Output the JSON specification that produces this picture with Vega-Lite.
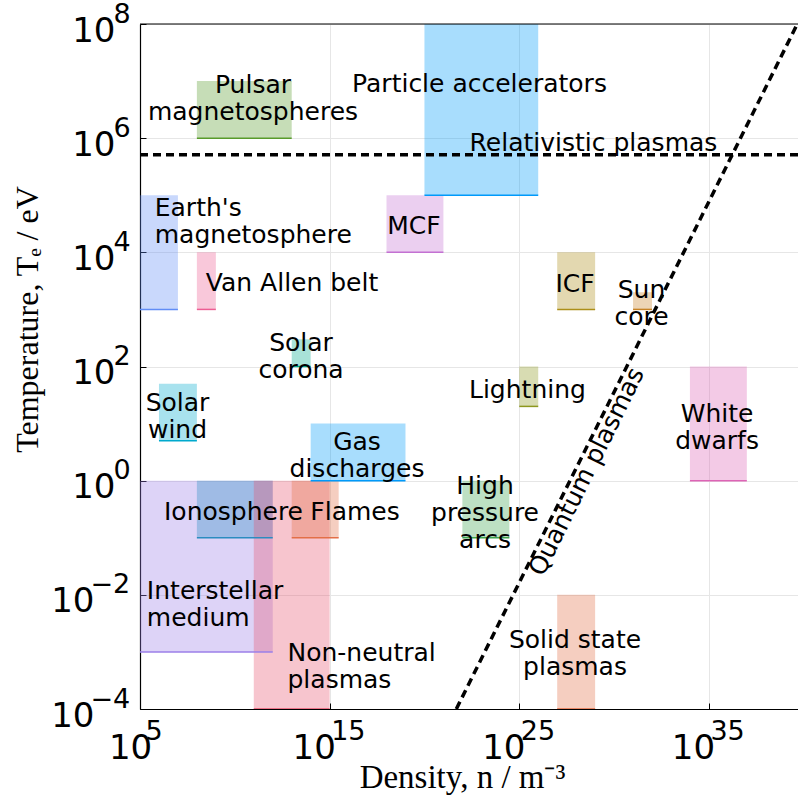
{
  "$schema": "https://vega.github.io/schema/vega-lite/v6.json",
  "width": 658,
  "height": 685,
  "autosize": "none",
  "padding": {"left": 140, "top": 24, "right": 0, "bottom": 98},
  "background": "white",
  "config": {"view": {"stroke": null}, "font": "DejaVu Sans"},
  "datasets": {
    "boxes": [
      {"name": "Interstellar medium", "n1": 1e5, "n2": 1e12, "T1": 1e-3, "T2": 1},
      {"name": "Ionosphere", "n1": 1e8, "n2": 1e12, "T1": 0.1, "T2": 1},
      {"name": "Non-neutral plasmas", "n1": 1e11, "n2": 1e15, "T1": 1e-4, "T2": 1},
      {"name": "Flames", "n1": 1e13, "n2": 3e15, "T1": 0.1, "T2": 1},
      {"name": "Pulsar magnetospheres", "n1": 1e8, "n2": 1e13, "T1": 1e6, "T2": 1e7},
      {"name": "Particle accelerators", "n1": 1e20, "n2": 1e26, "T1": 1e5, "T2": 1e9},
      {"name": "Earth's magnetosphere", "n1": 1e5, "n2": 1e7, "T1": 1e3, "T2": 1e5},
      {"name": "Van Allen belt", "n1": 1e8, "n2": 1e9, "T1": 1e3, "T2": 1e4},
      {"name": "MCF", "n1": 1e18, "n2": 1e21, "T1": 1e4, "T2": 1e5},
      {"name": "ICF", "n1": 1e27, "n2": 1e29, "T1": 1e3, "T2": 1e4},
      {"name": "Sun core", "n1": 1e31, "n2": 1e32, "T1": 1e3, "T2": 2e3},
      {"name": "Solar corona", "n1": 1e13, "n2": 1e14, "T1": 100, "T2": 300},
      {"name": "Solar wind", "n1": 1e6, "n2": 1e8, "T1": 5, "T2": 50},
      {"name": "Lightning", "n1": 1e25, "n2": 1e26, "T1": 20, "T2": 100},
      {"name": "White dwarfs", "n1": 1e34, "n2": 1e37, "T1": 1, "T2": 100},
      {"name": "Gas discharges", "n1": 1e14, "n2": 1e19, "T1": 1, "T2": 10},
      {"name": "High pressure arcs", "n1": 1e22, "n2": 3e24, "T1": 0.1, "T2": 1},
      {"name": "Solid state plasmas", "n1": 1e27, "n2": 1e29, "T1": 1e-4, "T2": 1e-2}
    ],
    "quantum": [
      {"n": 4.8e21, "T": 1e-4},
      {"n": 4.6e39, "T": 1e8}
    ],
    "relativistic": [{"T": 511000}],
    "frameTop": [{"T": 1e8}],
    "labelsCentered": [
      {"label": "Pulsar\nmagnetospheres", "n": 9.1e10, "T": 8.7e6},
      {"label": "Particle accelerators", "n": 8.0e22, "T": 9.0e6},
      {"label": "Relativistic plasmas", "n": 8.2e28, "T": 8.2e5},
      {"label": "Van Allen belt", "n": 1.04e13, "T": 2850},
      {"label": "MCF", "n": 2.8e19, "T": 2.9e4},
      {"label": "ICF", "n": 8.7e27, "T": 2780},
      {"label": "Sun\ncore", "n": 2.8e31, "T": 2170},
      {"label": "Solar\ncorona", "n": 3.1e13, "T": 262},
      {"label": "Lightning", "n": 2.7e25, "T": 38.5},
      {"label": "Solar\nwind", "n": 9.5e6, "T": 23.4},
      {"label": "White\ndwarfs", "n": 2.7e35, "T": 15.0},
      {"label": "Gas\ndischarges", "n": 2.77e16, "T": 4.78},
      {"label": "Ionosphere", "n": 8.5e9, "T": 0.285},
      {"label": "Flames", "n": 2.18e16, "T": 0.285},
      {"label": "High\npressure\narcs", "n": 1.56e23, "T": 0.81},
      {"label": "Solid state\nplasmas", "n": 8.7e27, "T": 1.6e-3}
    ],
    "labelsLeft": [
      {"label": "Earth's\nmagnetosphere", "n": 6.0e5, "T": 6.1e4},
      {"label": "Interstellar\nmedium", "n": 2.3e5, "T": 0.0118},
      {"label": "Non-neutral\nplasmas", "n": 6.0e12, "T": 9.7e-4}
    ],
    "labelQuantum": [
      {"label": "Quantum plasmas", "n": 3.6e28, "T": 1.44}
    ]
  },
  "layer": [
    {
      "layer": [
        {
          "data": {"name": "boxes"},
          "mark": {"type": "rect", "opacity": 0.34, "clip": true},
          "encoding": {
            "x": {
              "field": "n1", "type": "quantitative",
              "scale": {"type": "log", "domain": [1e5, 5e39], "nice": false},
              "axis": {
                "orient": "bottom",
                "values": [1e5, 1e15, 1e25, 1e35],
                "labelExpr": "'10'",
                "labelFont": "DejaVu Sans", "labelFontSize": 34, "labelColor": "black",
                "labelAlign": "center", "labelBaseline": "top",
                "labelPadding": 28,
                "labelOffset": {"condition": {"test": "datum.value < 1e10", "value": -10}, "value": -16},
                "labelOverlap": false, "labelFlush": false,
                "tickSize": -6, "tickColor": "black", "tickWidth": 1,
                "domainColor": "black", "domainWidth": 1.2,
                "grid": true, "gridColor": "#e6e6e6", "gridWidth": 1,
                "title": "Density, n / m⁻³",
                "titleFont": "Liberation Serif", "titleFontSize": 33, "titleFontWeight": "normal", "titleColor": "black",
                "titleAlign": "center", "titleBaseline": "alphabetic", "titleX": 322, "titleY": 78
              }
            },
            "x2": {"field": "n2"},
            "y": {
              "field": "T1", "type": "quantitative",
              "scale": {"type": "log", "domain": [1e-4, 1e8], "nice": false},
              "axis": {
                "orient": "left",
                "values": [1e-4, 1e-2, 1, 100, 1e4, 1e6, 1e8],
                "labelExpr": "'10'",
                "labelFont": "DejaVu Sans", "labelFontSize": 34, "labelColor": "black",
                "labelAlign": "right", "labelBaseline": "middle",
                "labelPadding": {"condition": {"test": "datum.value < 0.5", "value": 52}, "value": 31},
                "labelOffset": 7,
                "labelOverlap": false, "labelFlush": false,
                "tickSize": -6, "tickColor": "black", "tickWidth": 1,
                "domainColor": "black", "domainWidth": 1.2,
                "grid": true, "gridColor": "#e6e6e6", "gridWidth": 1,
                "title": "Temperature, Tₑ / eV",
                "titleFont": "Liberation Serif", "titleFontSize": 32, "titleFontWeight": "normal", "titleColor": "black",
                "titleAngle": 270, "titleAlign": "center", "titleBaseline": "alphabetic", "titleX": -103, "titleY": 295
              }
            },
            "y2": {"field": "T2"},
            "color": {
              "field": "name", "type": "nominal", "legend": null,
              "scale": {
                "domain": ["Interstellar medium", "Ionosphere", "Non-neutral plasmas", "Flames", "Pulsar magnetospheres", "Particle accelerators", "Earth's magnetosphere", "Van Allen belt", "MCF", "ICF", "Sun core", "Solar corona", "Solar wind", "Lightning", "White dwarfs", "Gas discharges", "High pressure arcs", "Solid state plasmas"],
                "range": ["#9B7FE9", "#2A8CC0", "#E8566F", "#E36F47", "#589B2B", "#009AFA", "#618DF6", "#ED5E93", "#C371D2", "#AC8E18", "#C68225", "#00A98D", "#00A9CD", "#8E971E", "#DD64B5", "#009AFA", "#3EA44E", "#E36F47"]
              }
            }
          }
        },
        {
          "data": {"name": "boxes"},
          "mark": {"type": "rule", "strokeWidth": 1.5, "clip": true},
          "encoding": {
            "x": {"field": "n1", "type": "quantitative"},
            "x2": {"field": "n2"},
            "y": {"field": "T1", "type": "quantitative"},
            "color": {
              "field": "name", "type": "nominal", "legend": null,
              "scale": {
                "domain": ["Interstellar medium", "Ionosphere", "Non-neutral plasmas", "Flames", "Pulsar magnetospheres", "Particle accelerators", "Earth's magnetosphere", "Van Allen belt", "MCF", "ICF", "Sun core", "Solar corona", "Solar wind", "Lightning", "White dwarfs", "Gas discharges", "High pressure arcs", "Solid state plasmas"],
                "range": ["#9B7FE9", "#2A8CC0", "#E8566F", "#E36F47", "#589B2B", "#009AFA", "#618DF6", "#ED5E93", "#C371D2", "#AC8E18", "#C68225", "#00A98D", "#00A9CD", "#8E971E", "#DD64B5", "#009AFA", "#3EA44E", "#E36F47"]
              }
            }
          }
        },
        {
          "data": {"name": "relativistic"},
          "mark": {"type": "rule", "color": "black", "strokeWidth": 3.5, "strokeDash": [8, 5]},
          "encoding": {"y": {"field": "T", "type": "quantitative"}}
        },
        {
          "data": {"name": "quantum"},
          "mark": {"type": "line", "color": "black", "strokeWidth": 3.5, "strokeDash": [8, 5], "clip": true},
          "encoding": {
            "x": {"field": "n", "type": "quantitative"},
            "y": {"field": "T", "type": "quantitative"}
          }
        },
        {
          "data": {"name": "frameTop"},
          "mark": {"type": "rule", "color": "black", "strokeWidth": 1.2},
          "encoding": {"y": {"field": "T", "type": "quantitative"}}
        },
        {
          "data": {"name": "labelsCentered"},
          "mark": {"type": "text", "align": "center", "baseline": "middle", "font": "DejaVu Sans", "fontSize": 25, "lineBreak": "\n", "lineHeight": 27, "color": "black"},
          "encoding": {
            "x": {"field": "n", "type": "quantitative"},
            "y": {"field": "T", "type": "quantitative"},
            "text": {"field": "label"}
          }
        },
        {
          "data": {"name": "labelsLeft"},
          "mark": {"type": "text", "align": "left", "baseline": "middle", "font": "DejaVu Sans", "fontSize": 25, "lineBreak": "\n", "lineHeight": 27, "color": "black"},
          "encoding": {
            "x": {"field": "n", "type": "quantitative"},
            "y": {"field": "T", "type": "quantitative"},
            "text": {"field": "label"}
          }
        },
        {
          "data": {"name": "labelQuantum"},
          "mark": {"type": "text", "align": "center", "baseline": "middle", "font": "DejaVu Sans", "fontSize": 25, "angle": 296.4, "color": "black"},
          "encoding": {
            "x": {"field": "n", "type": "quantitative"},
            "y": {"field": "T", "type": "quantitative"},
            "text": {"field": "label"}
          }
        }
      ]
    },
    {
      "data": {"name": "quantum"},
      "mark": {"type": "point", "opacity": 0},
      "encoding": {
        "x": {
          "field": "n", "type": "quantitative",
          "scale": {"type": "log", "domain": [1e5, 5e39], "nice": false},
          "axis": {
            "orient": "bottom",
            "values": [1e5, 1e15, 1e25, 1e35],
            "labelExpr": "format(round(log(datum.value) / LN10), 'd')",
            "labelFont": "DejaVu Sans", "labelFontSize": 27, "labelColor": "black",
            "labelAlign": "left", "labelBaseline": "top",
            "labelPadding": 15,
            "labelOffset": {"condition": {"test": "datum.value < 1e10", "value": 5}, "value": 1},
            "labelOverlap": false, "labelFlush": false,
            "tickSize": -6, "tickOpacity": 0,
            "domain": false, "grid": false, "title": null
          }
        },
        "y": {
          "field": "T", "type": "quantitative",
          "scale": {"type": "log", "domain": [1e-4, 1e8], "nice": false},
          "axis": {
            "orient": "left",
            "values": [1e-4, 1e-2, 1, 100, 1e4, 1e6, 1e8],
            "labelExpr": "format(round(log(datum.value) / LN10), 'd')",
            "labelFont": "DejaVu Sans", "labelFontSize": 27, "labelColor": "black",
            "labelAlign": "left", "labelBaseline": "middle",
            "labelPadding": {"condition": {"test": "datum.value < 0.5", "value": 56}, "value": 33},
            "labelOffset": -10,
            "labelOverlap": false, "labelFlush": false,
            "tickSize": -6, "tickOpacity": 0,
            "domain": false, "grid": false, "title": null
          }
        }
      }
    }
  ],
  "resolve": {"axis": {"x": "independent", "y": "independent"}}
}
